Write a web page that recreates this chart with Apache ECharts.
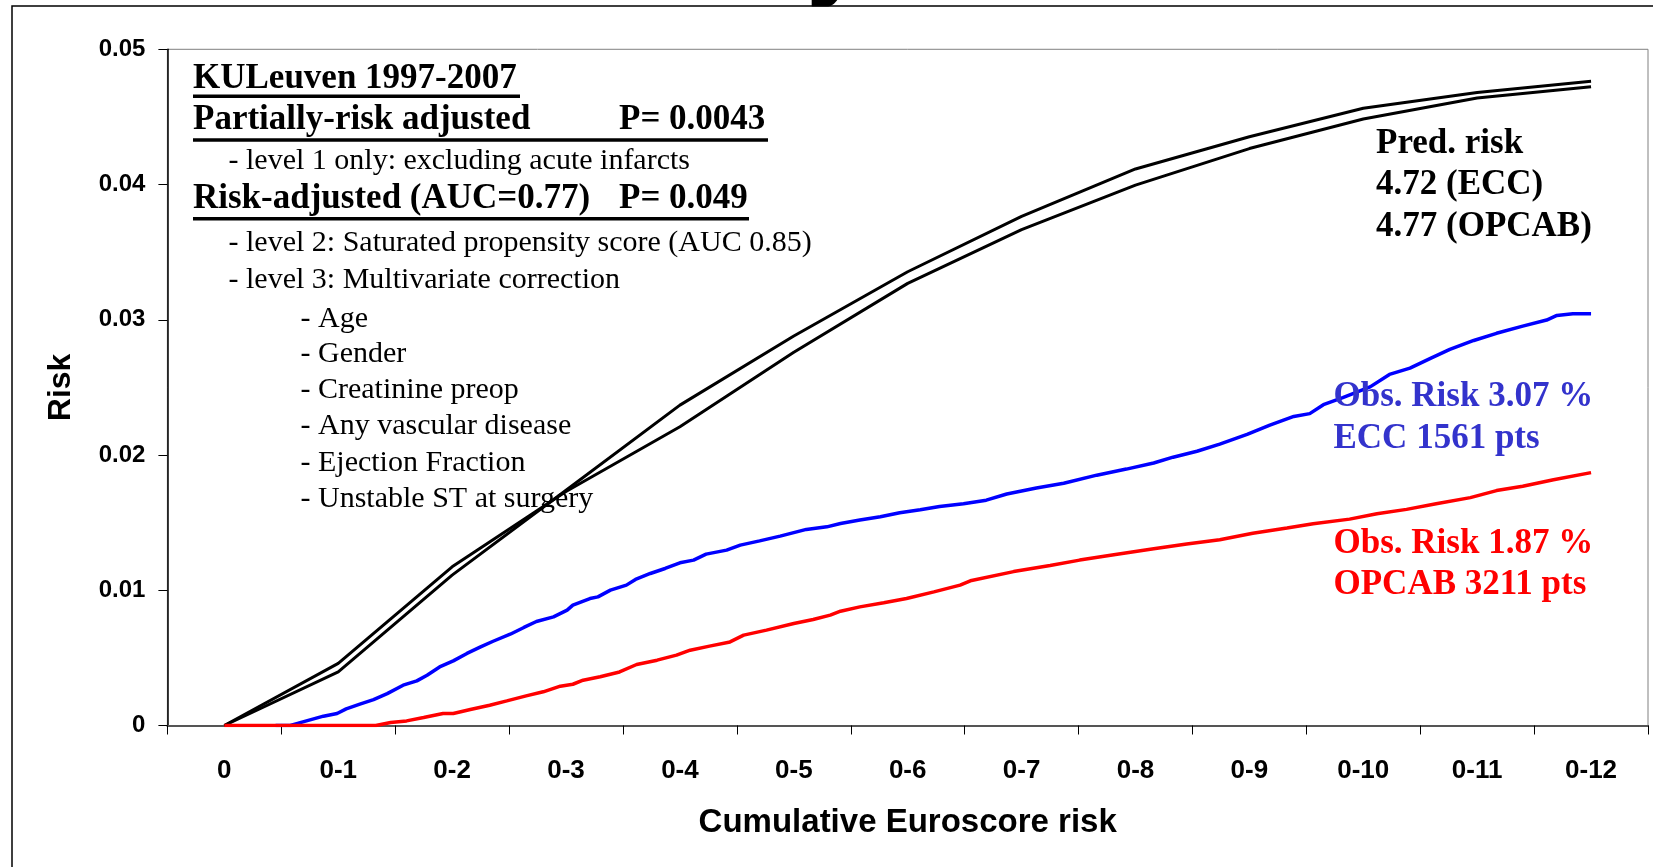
<!DOCTYPE html>
<html><head><meta charset="utf-8">
<script src="https://cdn.jsdelivr.net/npm/echarts@6/dist/echarts.min.js"></script>
<style>html,body{margin:0;padding:0;background:#fff}#c{width:1653px;height:867px}</style>
</head><body><div id="c"></div>
<script>
const categories = ['0','0-1','0-2','0-3','0-4','0-5','0-6','0-7','0-8','0-9','0-10','0-11','0-12'];
const yTicks = [0, 0.01, 0.02, 0.03, 0.04, 0.05];
// predicted risk (Euroscore) per cumulative category
const predECC   = [0, 0.00459, 0.01173, 0.0173, 0.02209, 0.0276, 0.03269, 0.03667, 0.03996, 0.04266, 0.04485, 0.04640, 0.04723];
const predOPCAB = [0, 0.00397, 0.01112, 0.0174, 0.02369, 0.0288, 0.03355, 0.03764, 0.04115, 0.04353, 0.04564, 0.04680, 0.04763];
// observed cumulative risk: [category position, risk]
const obsECC = [[0.45,0],[0.58,0],[0.69,0.00027],[0.87,0.00069],[0.99,0.00089],[1.07,0.00123],[1.19,0.00158],[1.31,0.00192],[1.43,0.00236],[1.57,0.00298],[1.69,0.0033],[1.78,0.00372],[1.89,0.00433],[2.01,0.00478],[2.13,0.00533],[2.25,0.00581],[2.36,0.00623],[2.51,0.00675],[2.63,0.00725],[2.74,0.00769],[2.89,0.00803],[3.01,0.00853],[3.06,0.0089],[3.21,0.00939],[3.28,0.00951],[3.39,0.01001],[3.53,0.01038],[3.61,0.0108],[3.74,0.01124],[3.87,0.01161],[4.0,0.01203],[4.12,0.01223],[4.23,0.01267],[4.41,0.01297],[4.53,0.01334],[4.7,0.01365],[4.88,0.014],[5.11,0.0145],[5.29,0.01469],[5.41,0.01494],[5.58,0.01519],[5.76,0.01543],[5.93,0.01573],[6.11,0.01595],[6.28,0.0162],[6.49,0.0164],[6.69,0.01666],[6.87,0.01712],[7.13,0.01756],[7.37,0.01791],[7.66,0.01851],[7.92,0.01896],[8.16,0.01941],[8.33,0.01984],[8.54,0.02028],[8.74,0.02081],[8.98,0.02152],[9.18,0.02221],[9.39,0.02285],[9.53,0.02306],[9.65,0.02372],[9.82,0.02425],[10.06,0.02504],[10.23,0.02596],[10.41,0.02643],[10.59,0.02715],[10.76,0.02781],[10.97,0.02847],[11.17,0.029],[11.4,0.02953],[11.61,0.02998],[11.7,0.03032],[11.84,0.03045],[12.0,0.03045]];
const obsOPCAB = [[0,0],[1.33,0],[1.46,0.00022],[1.6,0.00034],[1.75,0.00059],[1.92,0.00089],[2.01,0.00089],[2.16,0.00118],[2.33,0.0015],[2.48,0.00182],[2.65,0.00219],[2.8,0.00249],[2.95,0.00291],[3.06,0.00305],[3.15,0.00335],[3.3,0.0036],[3.47,0.00396],[3.62,0.00451],[3.8,0.00483],[3.97,0.0052],[4.09,0.00557],[4.26,0.00587],[4.44,0.00618],[4.56,0.00668],[4.76,0.00705],[5.0,0.00754],[5.17,0.00784],[5.32,0.00816],[5.41,0.00845],[5.58,0.00877],[5.79,0.00907],[5.99,0.00939],[6.23,0.00988],[6.46,0.01038],[6.55,0.0107],[6.93,0.01138],[7.25,0.01183],[7.51,0.01223],[7.81,0.01263],[8.16,0.01307],[8.45,0.01342],[8.74,0.01374],[9.03,0.01421],[9.33,0.0146],[9.56,0.01492],[9.88,0.01526],[10.12,0.01566],[10.38,0.01598],[10.64,0.0164],[10.94,0.01685],[11.17,0.01737],[11.4,0.01769],[11.67,0.01817],[12.0,0.0187]];

const SERIF = '"Liberation Serif", "Times New Roman", serif';
const SANS = '"Liberation Sans", Arial, sans-serif';
function txt(text, x, baseline, size, bold, color, z) {
  return {type:'text', x:x, y:baseline - 0.34*size, z:z, silent:true,
    style:{text:text, fill:color, font:(bold?'bold ':'') + size + 'px ' + SERIF,
      align:'left', verticalAlign:'middle', textAlign:'left', textVerticalAlign:'middle'}};
}
function uline(x1, x2, y, h) {
  return {type:'rect', z:1, silent:true, shape:{x:x1, y:y, width:x2-x1, height:h}, style:{fill:'#000'}};
}
const BOLD = 35, REG = 30, RB = 35;
const graphics = [
  // bottom of a clipped heading glyph above the frame
  {type:'text', x:806, y:10, z:0, silent:true, style:{text:'y', fill:'#000', font:'bold 110px ' + SANS, align:'left', verticalAlign:'bottom', textAlign:'left', textVerticalAlign:'bottom'}},
  {type:'rect', z:0.5, silent:true, shape:{x:780, y:6.5, width:120, height:30}, style:{fill:'#fff'}},
  {type:'rect', z:1, silent:true, shape:{x:12, y:6, width:1700, height:900}, style:{fill:'transparent', stroke:'#000', lineWidth:1.5}},
  txt('KULeuven 1997-2007', 193, 90.5, BOLD, true, '#000', 1),
  uline(193, 520, 94.5, 3.5),
  txt('Partially-risk adjusted', 193, 131.7, BOLD, true, '#000', 1),
  txt('P= 0.0043', 619, 131.7, BOLD, true, '#000', 1),
  uline(193, 768, 138.3, 3.5),
  txt('- level 1 only: excluding acute infarcts', 228.5, 171.7, REG, false, '#000', 1),
  txt('Risk-adjusted (AUC=0.77)', 193, 210.8, BOLD, true, '#000', 1),
  txt('P= 0.049', 619, 210.8, BOLD, true, '#000', 1),
  uline(193, 749, 217, 3.5),
  txt('- level 2: Saturated propensity score (AUC 0.85)', 228.5, 253.5, REG, false, '#000', 1),
  txt('- level 3: Multivariate correction', 228.5, 290.5, REG, false, '#000', 1),
  txt('- Age', 300.5, 329, REG, false, '#000', 1),
  txt('- Gender', 300.5, 364.8, REG, false, '#000', 1),
  txt('- Creatinine preop', 300.5, 400.6, REG, false, '#000', 1),
  txt('- Any vascular disease', 300.5, 436.5, REG, false, '#000', 1),
  txt('- Ejection Fraction', 300.5, 473.4, REG, false, '#000', 1),
  txt('- Unstable ST at surgery', 300.5, 509.2, REG, false, '#000', 1),
  txt('Pred. risk', 1376, 155.5, RB, true, '#000', 10),
  txt('4.72 (ECC)', 1376, 197, RB, true, '#000', 10),
  txt('4.77 (OPCAB)', 1376, 239, RB, true, '#000', 10),
  txt('Obs. Risk 3.07 %', 1333.5, 409, RB, true, '#3333cc', 10),
  txt('ECC 1561 pts', 1333.5, 450.5, RB, true, '#3333cc', 10),
  txt('Obs. Risk 1.87 %', 1333.5, 555.5, RB, true, '#ff0000', 10),
  txt('OPCAB 3211 pts', 1333.5, 596.5, RB, true, '#ff0000', 10)
];

const chart = echarts.init(document.getElementById('c'), null, {renderer:'canvas'});
chart.setOption({
  animation:false,
  backgroundColor:'#fff',
  grid:{left:167.4, top:49.3, width:1480.6, height:676.2, show:true, borderColor:'#808080', borderWidth:1, backgroundColor:'transparent'},
  xAxis:[
    {type:'category', data:categories, boundaryGap:true,
     axisLine:{onZero:false, lineStyle:{color:'#555', width:2}},
     axisTick:{show:true, length:9, lineStyle:{color:'#000', width:1}},
     axisLabel:{interval:0, margin:32, color:'#000', fontSize:26, fontWeight:'bold', fontFamily:SANS},
     splitLine:{show:false},
     name:'Cumulative Euroscore risk', nameLocation:'middle', nameGap:81,
     nameTextStyle:{color:'#000', fontSize:33, fontWeight:'bold', fontFamily:SANS}},
    {type:'value', min:-0.5, max:12.5, show:false, splitLine:{show:false}}
  ],
  yAxis:{type:'value', min:yTicks[0], max:yTicks[yTicks.length-1], interval:0.01,
     axisLine:{show:true, onZero:false, lineStyle:{color:'#000', width:1.5}},
     axisTick:{show:true, length:9, lineStyle:{color:'#000', width:1}},
     axisLabel:{margin:22, color:'#000', fontSize:24, fontWeight:'bold', fontFamily:SANS},
     splitLine:{show:false},
     name:'Risk', nameLocation:'middle', nameGap:90, nameRotate:90,
     nameTextStyle:{color:'#000', fontSize:32, fontWeight:'bold', fontFamily:SANS}},
  series:[
    {name:'Pred ECC', type:'line', xAxisIndex:0, data:predECC, symbol:'none', z:3, lineStyle:{color:'#000', width:3}},
    {name:'Pred OPCAB', type:'line', xAxisIndex:0, data:predOPCAB, symbol:'none', z:3, lineStyle:{color:'#000', width:3}},
    {name:'Obs ECC', type:'line', xAxisIndex:1, data:obsECC, symbol:'none', z:4, lineStyle:{color:'#0000ff', width:3.5}},
    {name:'Obs OPCAB', type:'line', xAxisIndex:1, data:obsOPCAB, symbol:'none', z:4, lineStyle:{color:'#ff0000', width:3.5}}
  ],
  graphic:graphics
});
</script></body></html>
